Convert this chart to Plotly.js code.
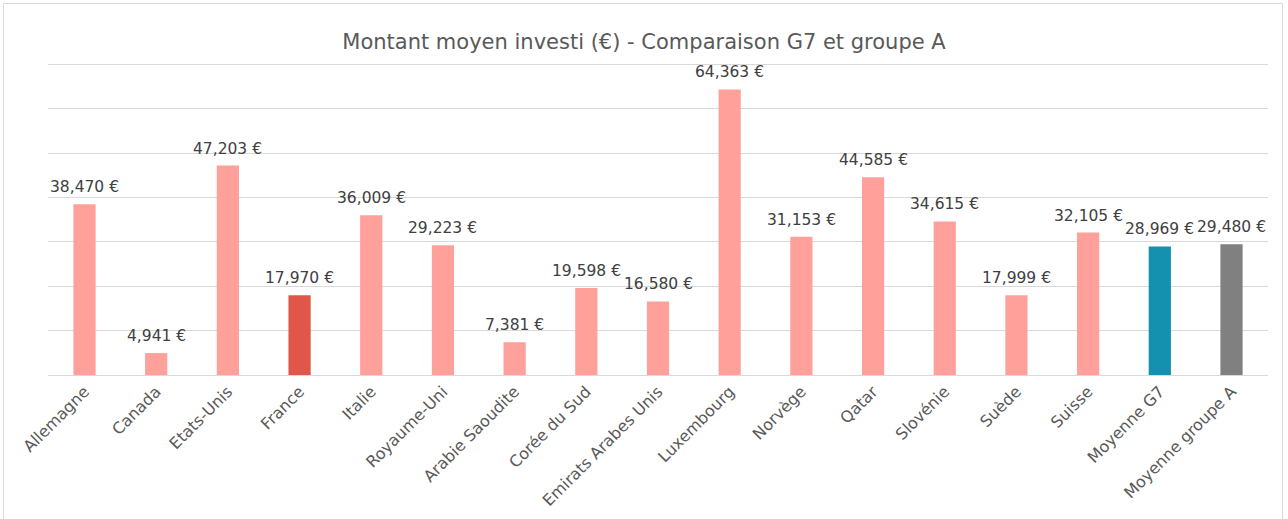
<!DOCTYPE html>
<html>
<head>
<meta charset="utf-8">
<script src="https://cdn.plot.ly/plotly-3.0.1.min.js"></script>
<style>
html,body{margin:0;padding:0;background:#fff;}
#frame{position:absolute;left:3px;top:3px;width:1280px;height:516px;border:1px solid #d9d9d9;border-bottom:none;box-sizing:border-box;}
#chart{position:absolute;left:0;top:0;width:1288px;height:519px;}
</style>
</head>
<body>
<div id="frame"></div>
<div id="chart"></div>
<script>
var categories = ["Allemagne","Canada","Etats-Unis","France","Italie","Royaume-Uni","Arabie Saoudite","Corée du Sud","Emirats Arabes Unis","Luxembourg","Norvège","Qatar","Slovénie","Suède","Suisse","Moyenne G7","Moyenne groupe A"];
var values = [38470,4941,47203,17970,36009,29223,7381,19598,16580,64363,31153,44585,34615,17999,32105,28969,29480];
var barColors = ["#FFA19A","#FFA19A","#FFA19A","#E0574A","#FFA19A","#FFA19A","#FFA19A","#FFA19A","#FFA19A","#FFA19A","#FFA19A","#FFA19A","#FFA19A","#FFA19A","#FFA19A","#1591B0","#808080"];
var gridVals = [10000,20000,30000,40000,50000,60000,70000];
var fontFamily = "'DejaVu Sans', sans-serif";

var trace = {
  type: 'bar',
  x: categories,
  y: values,
  marker: {color: barColors},
  hoverinfo: 'x+y'
};

var annotations = categories.map(function (c, i) {
  return {
    x: c, y: values[i], xref: 'x', yref: 'y',
    text: values[i].toLocaleString('en-US') + ' €',
    showarrow: false, yanchor: 'bottom', yshift: 6,
    font: {family: fontFamily, size: 15.5, color: '#404040'}
  };
});

var layout = {
  width: 1288, height: 519,
  margin: {l: 48, r: 20, t: 60, b: 144},
  paper_bgcolor: 'rgba(0,0,0,0)',
  plot_bgcolor: 'rgba(0,0,0,0)',
  title: {text: 'Montant moyen investi (€) - Comparaison G7 et groupe A', font: {family: fontFamily, size: 21, color: '#595959'}, x: 0.5, xanchor: 'center', y: 0.92, yanchor: 'middle'},
  bargap: 0.69,
  showlegend: false,
  annotations: annotations,
  xaxis: {
    tickangle: -45,
    tickfont: {family: fontFamily, size: 16, color: '#595959'},
    showline: true, linecolor: '#d9d9d9', linewidth: 1,
    ticks: '', fixedrange: true
  },
  yaxis: {
    range: [0, 71000], tickvals: gridVals,
    showticklabels: false,
    gridcolor: '#d9d9d9', gridwidth: 1,
    zeroline: false, fixedrange: true
  }
};

Plotly.newPlot('chart', [trace], layout, {displayModeBar: false, staticPlot: true});
</script>
</body>
</html>
